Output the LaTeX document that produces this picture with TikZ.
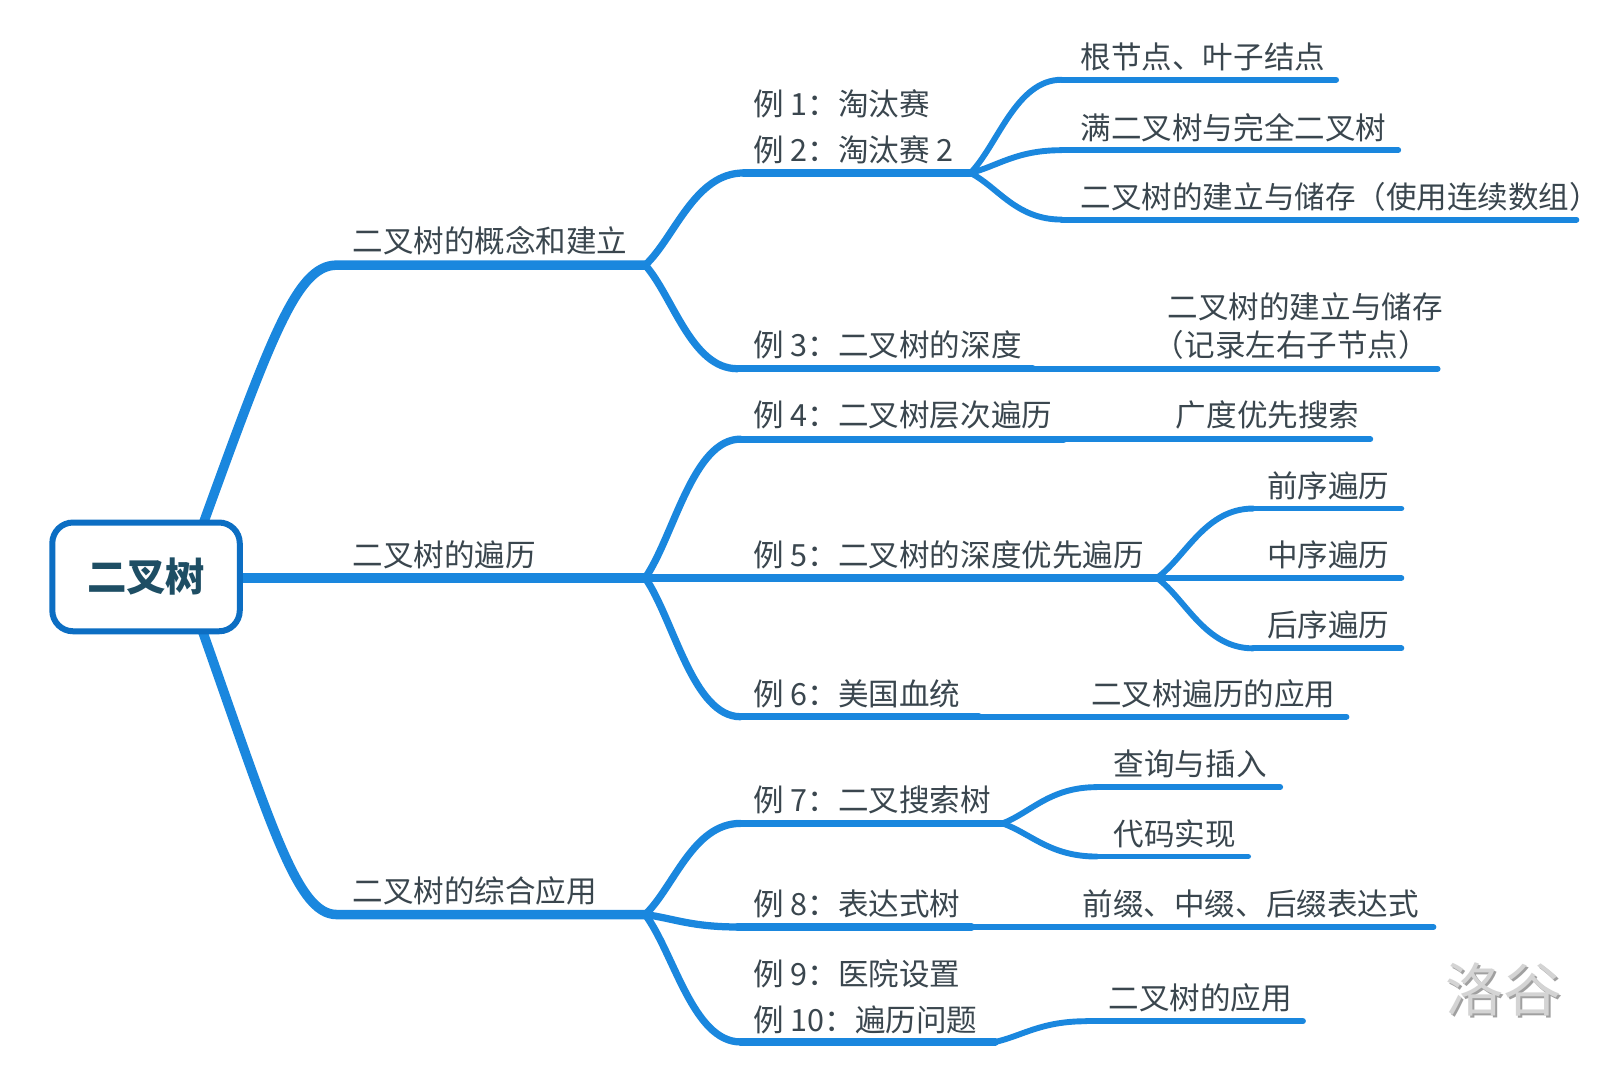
\documentclass[tikz,border=0pt]{standalone}
\usepackage{fontspec}
\setmainfont{Noto Sans CJK SC}
\usetikzlibrary{calc}
\definecolor{lineblue}{RGB}{26,135,222}
\definecolor{rootblue}{RGB}{12,110,195}
\definecolor{txtc}{RGB}{58,70,78}
\definecolor{roottxt}{RGB}{30,78,100}
\definecolor{wmc}{RGB}{212,212,212}
\definecolor{wmshadow}{RGB}{160,160,160}
\newcommand\mmcurve[3]{\draw[#1] let \p1=(#2), \p2=(#3) in (#2) .. controls ($(\p1)!0.3!(\p2)$) and ({0.5*\x1+0.5*\x2},\y2) .. (#3);}
\begin{document}
\begin{tikzpicture}[x=0.5pt,y=-0.5pt,
  lbl/.style={anchor=west,inner sep=0pt,text=txtc,font=\fontsize{14.75}{22.5}\selectfont,align=left},
  wa/.style={draw=lineblue,line width=4.6pt,line cap=round,line join=round},
  wb/.style={draw=lineblue,line width=3.5pt,line cap=round,line join=round},
  wc/.style={draw=lineblue,line width=2.85pt,line cap=round,line join=round},
  rootbox/.style={draw=rootblue,line width=2.9pt,rounded corners=10pt,fill=white,
    minimum width=90.5pt,minimum height=52.5pt,inner sep=0pt,text=roottxt,
    font=\fontsize{19}{22}\selectfont\bfseries},
  wmark/.style={anchor=west,inner sep=0pt,font=\fontsize{28}{30}\selectfont},
]
\fill[white] (0,0) rectangle (1568,1043);
\useasboundingbox (0,0) rectangle (1568,1043);

% ---------- coordinates ----------
\coordinate (aS0) at (183,542); \coordinate (aS) at (325,256); \coordinate (aE) at (623,256);
\coordinate (cS0) at (183,574); \coordinate (cS) at (325,883); \coordinate (cE) at (623,883);
\coordinate (bE) at (623,558);

\coordinate (t1S) at (718,167);  \coordinate (t1E) at (937,167);
\coordinate (t3S) at (712,356);  \coordinate (t3E) at (997,356);
\coordinate (t4S) at (715,424);  \coordinate (t4E) at (1027,424);
\coordinate (t5E) at (1117,558);
\coordinate (t6S) at (715,692);  \coordinate (t6E) at (945,692);
\coordinate (t7S) at (715,795);  \coordinate (t7E) at (968,795);
\coordinate (t8S) at (712,895);  \coordinate (t8E) at (938,895);
\coordinate (t9S) at (715,1006); \coordinate (t9E) at (961,1006);

\coordinate (c11S) at (1025,77);  \coordinate (c11E) at (1290,77);
\coordinate (c12S) at (1025,145); \coordinate (c12E) at (1350,145);
\coordinate (c13S) at (1025,212); \coordinate (c13E) at (1522,212);
\coordinate (c31E) at (1388,356);
\coordinate (c41E) at (1323,424);
\coordinate (c51S) at (1210,491); \coordinate (c51E) at (1353,491);
\coordinate (c52E) at (1353,558);
\coordinate (c53S) at (1210,626); \coordinate (c53E) at (1353,626);
\coordinate (c61E) at (1300,692);
\coordinate (c71S) at (1059,760); \coordinate (c71E) at (1236,760);
\coordinate (c72S) at (1059,827); \coordinate (c72E) at (1205,827);
\coordinate (c81E) at (1384,895);
\coordinate (c91S) at (1049,986); \coordinate (c91E) at (1258,986);

% ---------- level 1 ----------
\draw[wa] (aS0) .. controls (260,330) and (285,256) .. (aS) -- (aE);
\draw[wa] (cS0) .. controls (260,790) and (285,883) .. (cS) -- (cE);
\draw[wa] (141,558) -- (bE);

% ---------- level 2 ----------
\mmcurve{wb}{aE}{t1S} \draw[wb] (t1S) -- (t1E);
\mmcurve{wb}{aE}{t3S} \draw[wb] (t3S) -- (t3E);
\mmcurve{wb}{bE}{t4S} \draw[wb] (t4S) -- (t4E);
\draw[wb] (bE) -- (t5E);
\mmcurve{wb}{bE}{t6S} \draw[wb] (t6S) -- (t6E);
\mmcurve{wb}{cE}{t7S} \draw[wb] (t7S) -- (t7E);
\mmcurve{wb}{cE}{t8S} \draw[wb] (t8S) -- (t8E);
\mmcurve{wb}{cE}{t9S} \draw[wb] (t9S) -- (t9E);

% ---------- level 3 ----------
\mmcurve{wc}{t1E}{c11S} \draw[wc] (c11S) -- (c11E);
\mmcurve{wc}{t1E}{c12S} \draw[wc] (c12S) -- (c12E);
\mmcurve{wc}{t1E}{c13S} \draw[wc] (c13S) -- (c13E);
\draw[wc] (t3E) -- (c31E);
\draw[wc] (t4E) -- (c41E);
\mmcurve{wc}{t5E}{c51S} \draw[wc] (c51S) -- (c51E);
\draw[wc] (t5E) -- (c52E);
\mmcurve{wc}{t5E}{c53S} \draw[wc] (c53S) -- (c53E);
\draw[wc] (t6E) -- (c61E);
\mmcurve{wc}{t7E}{c71S} \draw[wc] (c71S) -- (c71E);
\mmcurve{wc}{t7E}{c72S} \draw[wc] (c72S) -- (c72E);
\draw[wc] (t8E) -- (c81E);
\mmcurve{wc}{t9E}{c91S} \draw[wc] (c91S) -- (c91E);

% ---------- root ----------
\node[rootbox] (root) at (141,557) {二叉树};

% ---------- labels ----------
\node[lbl] (la) at (340,232) {二叉树的概念和建立};
\node[lbl] (lb) at (340,536) {二叉树的遍历};
\node[lbl] (lc) at (340,860) {二叉树的综合应用};

\node[lbl] (t1) at (727,122.5) {例 1：淘汰赛\\例 2：淘汰赛 2};
\node[lbl] (t3) at (727,333) {例 3：二叉树的深度};
\node[lbl] (t4) at (727,401) {例 4：二叉树层次遍历};
\node[lbl] (t5) at (727,536) {例 5：二叉树的深度优先遍历};
\node[lbl] (t6) at (727,670) {例 6：美国血统};
\node[lbl] (t7) at (727,772) {例 7：二叉搜索树};
\node[lbl] (t8) at (727,873) {例 8：表达式树};
\node[lbl] (t9) at (727,962.5) {例 9：医院设置\\例 10：遍历问题};

\node[lbl] (c11) at (1043,55) {根节点、叶子结点};
\node[lbl] (c12) at (1043,123) {满二叉树与完全二叉树};
\node[lbl] (c13) at (1043,190) {二叉树的建立与储存（使用连续数组）};
\node[lbl,font=\fontsize{14.75}{18.5}\selectfont] (c31) at (1127,314.5) {二叉树的建立与储存\\\hspace*{-0.45em}（记录左右子节点）};
\node[lbl] (c41) at (1135,401) {广度优先搜索};
\node[lbl] (c51) at (1223,469) {前序遍历};
\node[lbl] (c52) at (1223,536) {中序遍历};
\node[lbl] (c53) at (1223,603) {后序遍历};
\node[lbl] (c61) at (1053,670) {二叉树遍历的应用};
\node[lbl] (c71) at (1075,738) {查询与插入};
\node[lbl] (c72) at (1075,805) {代码实现};
\node[lbl] (c81) at (1045,873) {前缀、中缀、后缀表达式};
\node[lbl] (c91) at (1070,963) {二叉树的应用};

% ---------- watermark ----------
\node[wmark,text=wmshadow] (wms) at (1397,957) {洛谷};
\node[wmark,text=wmc] (wm) at (1395,955) {洛谷};
\end{tikzpicture}
\end{document}
